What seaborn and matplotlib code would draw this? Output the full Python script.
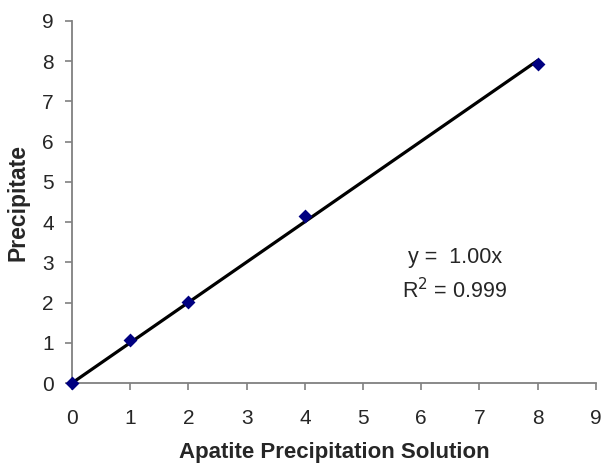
import numpy as np
import pandas as pd
import matplotlib
matplotlib.use("Agg")
import matplotlib.pyplot as plt
import seaborn as sns

x_vals = [0, 1, 2, 4, 8]
y_vals = [0.0, 1.07, 2.02, 4.16, 7.93]
x_ticks = list(range(0, 10))
y_ticks = list(range(0, 10))
eq_text = "y =  1.00x"
r2_text = "R$^2$ = 0.999"

sns.set_style("white")
plt.rcParams['font.family'] = ['Liberation Sans', 'DejaVu Sans']

df = pd.DataFrame({"x": x_vals, "y": y_vals})
xa = np.array(x_vals, float)
ya = np.array(y_vals, float)
slope = (xa * ya).sum() / (xa * xa).sum()

fig = plt.figure(figsize=(6.05, 4.66), dpi=100)
ax = fig.add_axes([0.119, 0.178, 0.866, 0.777])

xl = np.array([xa.min(), xa.max()])
ax.plot(xl, slope * xl, color="black", lw=2.3, zorder=2)
sns.scatterplot(data=df, x="x", y="y", marker="D", color="#000080", s=50,
                edgecolor="#000080", linewidth=0, ax=ax, zorder=3, clip_on=False)

ax.set_xlim(0, 9)
ax.set_ylim(0, 9)
ax.set_xticks(x_ticks)
ax.set_yticks(y_ticks)
ax.tick_params(axis="both", direction="out", length=5, width=1.2, color="#808080",
               labelsize=15, bottom=True, left=True)
ax.tick_params(axis="x", pad=14)
ax.tick_params(axis="y", pad=8)
for s in ["top", "right"]:
    ax.spines[s].set_visible(False)
for s in ["left", "bottom"]:
    ax.spines[s].set_color("#808080")
    ax.spines[s].set_linewidth(1.3)

ax.set_xlabel("Apatite Precipitation Solution", fontsize=16, fontweight="bold", va="center")
ax.set_ylabel("Precipitate", fontsize=16.5, fontweight="bold", va="center")
ax.xaxis.set_label_coords(0.5, -0.193)
ax.yaxis.set_label_coords(-0.103, 0.5)

ax.text(6.58, 3.11, eq_text, ha="center", va="center", fontsize=15.5)
ax.text(6.58, 2.31, r2_text, ha="center", va="center", fontsize=15.5)

fig.savefig("out.png", dpi=100)
